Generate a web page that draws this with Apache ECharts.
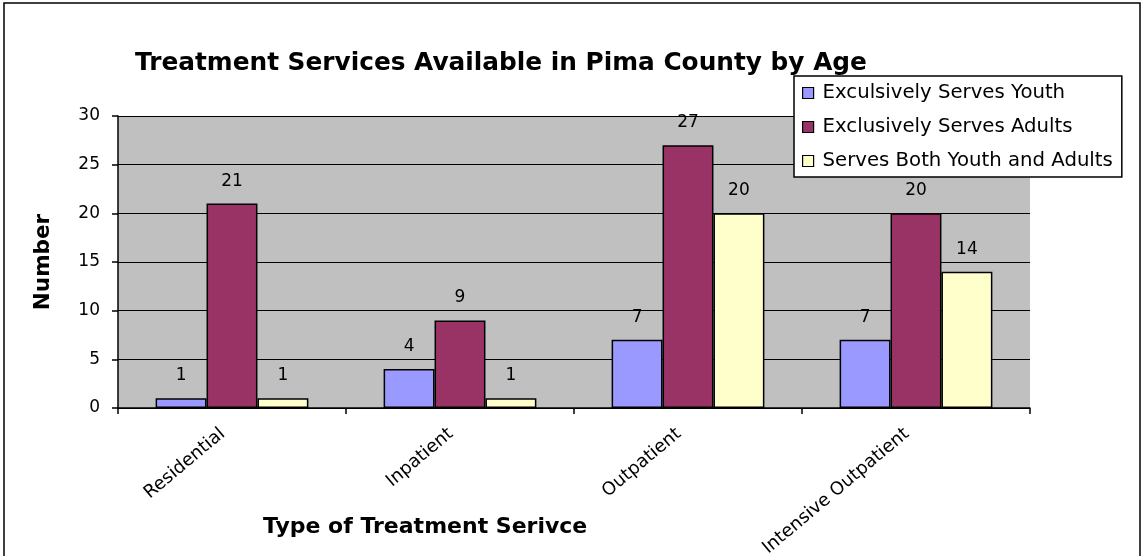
<!DOCTYPE html>
<html>
<head>
<meta charset="utf-8">
<script src="https://cdn.jsdelivr.net/npm/echarts@6/dist/echarts.min.js"></script>
<style>
  html, body { margin: 0; padding: 0; background: #fff; }
  #chart { width: 1143px; height: 556px; }
</style>
</head>
<body>
<div id="chart"></div>
<script>
// Treatment service types (x axis)
const categories = ['Residential', 'Inpatient', 'Outpatient', 'Intensive Outpatient'];

// Number of providers per group
const youthOnly = [1, 4, 7, 7];
const adultsOnly = [21, 9, 27, 20];
const bothGroups = [1, 1, 20, 14];

const seriesNames = [
  'Exculsively Serves Youth',
  'Exclusively Serves Adults',
  'Serves Both Youth and Adults'
];

const FONT = '"DejaVu Sans", "Liberation Sans", Arial, sans-serif';

const labelStyle = {
  show: true,
  position: 'top',
  distance: 14,
  color: '#000',
  fontSize: 17,
  fontFamily: FONT
};

function barSeries(name, data, color) {
  return {
    name: name,
    type: 'bar',
    data: data,
    barGap: '0%',
    barCategoryGap: '33%',
    itemStyle: { color: color, borderColor: '#000', borderWidth: 1.5 },
    label: labelStyle
  };
}

const chart = echarts.init(document.getElementById('chart'));
chart.setOption({
  backgroundColor: '#fff',
  animation: false,
  title: [
    {
      text: 'Treatment Services Available in Pima County by Age',
      left: 130,
      top: 46,
      textStyle: { fontFamily: FONT, fontWeight: 'bold', fontSize: 24.8, color: '#000' }
    },
    {
      text: 'Type of Treatment Serivce',
      left: 258,
      top: 511,
      textStyle: { fontFamily: FONT, fontWeight: 'bold', fontSize: 22, color: '#000' }
    }
  ],
  legend: {
    orient: 'vertical',
    left: 794,
    top: 76,
    padding: [7, 9, 6, 8],
    itemGap: 14,
    itemWidth: 11,
    itemHeight: 11,
    backgroundColor: '#fff',
    borderColor: '#000',
    borderWidth: 1.5,
    icon: 'rect',
    itemStyle: { borderColor: '#000', borderWidth: 1.2 },
    textStyle: { fontFamily: FONT, fontSize: 19.7, color: '#000', padding: [0, 0, 0, 4] },
    data: seriesNames
  },
  grid: {
    left: 118, right: 113, top: 116, bottom: 148,
    outerBoundsMode: 'none',
    containLabel: false,
    show: true, backgroundColor: '#c0c0c0', borderWidth: 0
  },
  xAxis: {
    type: 'category',
    data: categories,
    axisLine: { lineStyle: { color: '#000', width: 1.5 } },
    axisTick: { show: true, length: 6, lineStyle: { color: '#000', width: 1.5 } },
    axisLabel: { rotate: 40, color: '#000', fontSize: 18, fontFamily: FONT, margin: 16, padding: [0, 12, 0, 0] }
  },
  yAxis: {
    type: 'value',
    min: 0,
    max: 30,
    interval: 5,
    name: 'Number',
    nameLocation: 'middle',
    nameGap: 64,
    nameTextStyle: { fontFamily: FONT, fontWeight: 'bold', fontSize: 21.5, color: '#000' },
    axisLine: { show: true, lineStyle: { color: '#000', width: 1.5 } },
    axisTick: { show: true, length: 6, lineStyle: { color: '#000', width: 1.5 } },
    axisLabel: { color: '#000', fontSize: 17, fontFamily: FONT, margin: 18 },
    splitLine: { lineStyle: { color: '#000', width: 1.2 } }
  },
  graphic: [
    {
      type: 'rect',
      shape: { x: 4, y: 3, width: 1136, height: 560 },
      style: { fill: 'none', stroke: '#000', lineWidth: 1.5 },
      silent: true
    }
  ],
  series: [
    barSeries(seriesNames[0], youthOnly, '#9999ff'),
    barSeries(seriesNames[1], adultsOnly, '#993366'),
    barSeries(seriesNames[2], bothGroups, '#ffffcc')
  ]
});
</script>
</body>
</html>
